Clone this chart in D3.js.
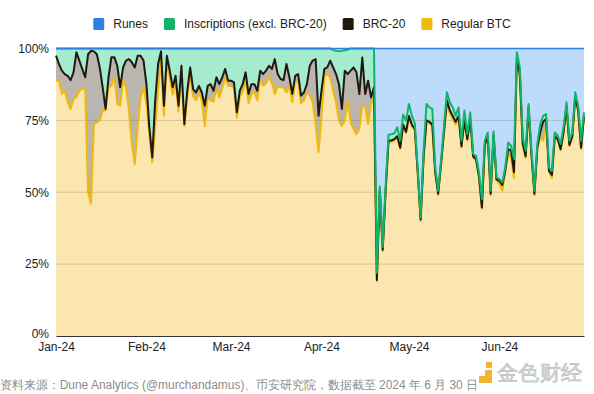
<!DOCTYPE html>
<html>
<head>
<meta charset="utf-8">
<script src="https://cdn.jsdelivr.net/npm/d3@7"></script>
<style>
  body { margin: 0; background: #fff; }
  svg text { font-family: "Liberation Sans", Arial, sans-serif; }
</style>
</head>
<body>
<script>
// daily share of bitcoin transactions by type, Jan 1 – Jun 30 2024 (%)
var startDay = "2024-01-01", endDay = "2024-06-30";

var regular = [
  88.8, 88.8, 84.2, 85.3, 81.3, 79, 82.4, 83, 85.3, 85.9,
  86, 50, 46, 73.7, 74.3, 74.9, 78.4, 78.4, 86.5, 87,
  90, 80.7, 80.1, 88.8, 86.5, 78.4, 66.8, 59.8, 72.6, 83,
  86.5, 80.7, 70.2, 60.4, 72.6, 85.3, 96, 76.6, 95, 90,
  84, 88, 78, 92, 73, 83, 91, 83.5, 82, 84.5,
  82, 73, 83, 82, 81.5, 86, 83, 86, 90, 87,
  87, 86.5, 76, 83, 85, 89, 81, 84, 85, 82,
  89, 87, 88, 90, 88.2, 84.2, 87, 86.5, 86.5, 84.7,
  87, 81.3, 88.8, 88.2, 81, 82, 84.7, 83.6, 81.3, 73.7,
  63.9, 76, 90.5, 91, 90, 85.3, 81.3, 74.9, 73, 74.9,
  81.8, 74.3, 72, 70.2, 72, 80.1, 79.5, 73.7, 80.7, 83,
  19, 50.5, 29.5, 50, 67.5, 67.5, 68, 69, 65, 73,
  70.5, 76, 73, 71.5, 56.5, 40, 61.5, 74.5, 74, 73,
  56.5, 49, 59.5, 70.5, 81, 77.5, 75.5, 73.5, 76, 65.5,
  74.5, 68, 75, 62, 61, 55, 44.2, 66, 69, 49,
  69.5, 54, 53, 50.5, 57, 63, 62, 55, 97, 90,
  66, 62, 79, 62.5, 49, 65, 69, 68, 73, 57,
  55, 69, 68, 64.5, 70.5, 79.5, 66, 69, 83, 78,
  65, 76
];

var brc20 = [
  8.7, 5.8, 8.1, 5.8, 9.2, 10, 9.3, 15.7, 10.5, 7,
  4, 48, 53.2, 25.3, 23.7, 18.5, 8.1, 0.6, 3.5, 10,
  7, 13.3, 6.4, 4.6, 9.3, 17.9, 28.4, 33.6, 24.9, 14.5,
  9.3, 6.9, 2.4, 1.7, 9.2, 9.3, 3, 3.5, 2.5, 2.3,
  2.5, 2.5, 2.1, 2, 0.7, 2.3, 2.4, 2.4, 2.7, 2.5,
  2.7, 7.1, 4, 5.6, 3.8, 4, 4.6, 4, 2.9, 1.8,
  1.8, 1.7, 1.8, 2.3, 2.6, 2.7, 3.2, 3.6, 2.6, 3.3,
  3.3, 4.1, 4.3, 4, 4.7, 12.1, 4.1, 2.9, 2.5, 9.9,
  3, 2.9, 1.7, 2.9, 2.6, 2.7, 2.9, 10.4, 14.5, 22.6,
  12.7, 9.3, 2.4, 2.4, 5.8, 8.1, 9.8, 12.7, 6, 17.4,
  9.3, 18, 21.4, 21.5, 12.2, 16.8, 4.7, 15.1, 2.3, 3.5,
  0.5, 0.5, 0.5, 0.5, 0.5, 0.5, 0.5, 0.5, 0.5, 0.5,
  0.5, 0.5, 0.5, 0.5, 0.5, 0.5, 0.5, 0.5, 0.5, 0.5,
  0.5, 0.5, 0.5, 0.5, 1, 1, 1, 1, 0.5, 0.5,
  0.5, 0.5, 0.5, 0.5, 0.5, 0.5, 0.5, 0.5, 0.5, 0.5,
  0.5, 0.5, 1, 2, 0.5, 2, 2.5, 2, 0.5, 1,
  1, 0.5, 0.5, 0.5, 0.5, 0.5, 2, 6.5, 2.5, 0.5,
  1, 0.5, 0.5, 0.5, 0.5, 0.5, 0.5, 0.5, 0.5, 0.5,
  0.5, 0.5
];

var inscriptions = [
  2.5, 5.4, 7.7, 8.9, 9.5, 11, 8.3, 1.3, 4.2, 7.1,
  10, 2, 0.8, 1, 2, 6.6, 13.5, 21, 10, 3,
  3, 6, 13.5, 6.6, 4.2, 3.7, 4.8, 6.6, 2.5, 2.5,
  4.2, 12.4, 27.4, 37.9, 18.2, 5.4, 1, 19.9, 2.5, 7.7,
  13.5, 9.5, 19.9, 6, 26.3, 14.7, 6.6, 14.1, 15.3, 13,
  15.3, 19.9, 13, 12.4, 14.7, 10, 12.4, 10, 7.1, 11.2,
  11.2, 11.8, 22.2, 14.7, 12.4, 8.3, 15.8, 12.4, 12.4, 14.7,
  7.7, 8.9, 7.7, 6, 7.1, 3.7, 8.9, 10.6, 11, 5.4,
  10, 15.8, 9.5, 8.9, 16.4, 15.3, 12.4, 6, 4.2, 3.7,
  23.4, 14.7, 7.1, 6.6, 4.2, 6.1, 8.1, 11.4, 20.2, 7.1,
  8.5, 7.7, 6.6, 8.3, 15.8, 3.1, 15.8, 11.2, 17, 13.5,
  2.5, 1, 1, 1.5, 2, 2.2, 2, 3.1, 2.5, 3.5,
  4, 4.2, 3.1, 2, 1, 0.7, 2, 5.7, 5, 5.5,
  1.6, 1, 1, 1.6, 2.8, 2.8, 3, 2.1, 3, 1.9,
  3.4, 1.7, 2.3, 0.8, 1.2, 1.4, 2.9, 1.4, 1.3, 1,
  1.1, 0.7, 0.6, 0.9, 1.1, 2.3, 1.7, 4.6, 1.2, 2.4,
  2.1, 1.9, 1.2, 1.4, 1, 1.3, 2.7, 2.1, 1.7, 1.1,
  1.5, 1.3, 1.2, 1.8, 1.6, 1.3, 1.4, 1.3, 1.3, 1.6,
  2.4, 1.3
];

var runes = [
  0, 0, 0, 0, 0, 0, 0, 0, 0, 0,
  0, 0, 0, 0, 0, 0, 0, 0, 0, 0,
  0, 0, 0, 0, 0, 0, 0, 0, 0, 0,
  0, 0, 0, 0, 0, 0, 0, 0, 0, 0,
  0, 0, 0, 0, 0, 0, 0, 0, 0, 0,
  0, 0, 0, 0, 0, 0, 0, 0, 0, 0,
  0, 0, 0, 0, 0, 0, 0, 0, 0, 0,
  0, 0, 0, 0, 0, 0, 0, 0, 0, 0,
  0, 0, 0, 0, 0, 0, 0, 0, 0, 0,
  0, 0, 0, 0, 0, 0.5, 0.8, 1, 0.8, 0.6,
  0.4, 0, 0, 0, 0, 0, 0, 0, 0, 0,
  78, 48, 69, 48, 30, 29.8, 29.5, 27.4, 32, 23,
  25, 19.3, 23.4, 26, 42, 58.8, 36, 19.3, 20.5, 21,
  41.4, 49.5, 39, 27.4, 15.2, 18.7, 20.5, 23.4, 20.5, 32.1,
  21.6, 29.8, 22.2, 36.7, 37.3, 43.1, 52.4, 32.1, 29.2, 49.5,
  28.9, 44.8, 45.4, 46.6, 41.4, 32.7, 33.8, 38.4, 1.3, 6.6,
  30.9, 35.6, 19.3, 35.6, 49.5, 33.2, 26.3, 23.4, 22.8, 41.4,
  42.5, 29.2, 30.3, 33.2, 27.4, 18.7, 32.1, 29.2, 15.2, 19.9,
  32.1, 22.2
];

var seriesKeys = ["regular", "brc20", "inscriptions", "runes"];
var seriesNames = ["Regular BTC", "BRC-20", "Inscriptions (excl. BRC-20)", "Runes"];
var legendKeys = ["runes", "inscriptions", "brc20", "regular"];
var monthTicks = ["2024-01-01", "2024-02-01", "2024-03-01", "2024-04-01", "2024-05-01", "2024-06-01"];
var yTicks = [0, 0.25, 0.5, 0.75, 1];
var sourceNote = "资料来源：Dune Analytics (@murchandamus)、币安研究院，数据截至 2024 年 6 月 30 日";
var watermark = "金色财经";

var lineColor = { regular: "#f0b90b", brc20: "#20190f", inscriptions: "#13b26b", runes: "#2e7fe3" };
var areaColor = { regular: "#fce6af", brc20: "#bab5ae", inscriptions: "#a5ebcf", runes: "#bddbfa" };

var width = 594, height = 394;
var margin = { top: 48.5, right: 10, bottom: 58, left: 56 };

var parse = d3.timeParse("%Y-%m-%d");
var days = d3.timeDay.range(parse(startDay), d3.timeDay.offset(parse(endDay), 1));

var rows = days.map(function(d, i) {
  return { date: d, regular: regular[i], brc20: brc20[i], inscriptions: inscriptions[i], runes: runes[i] };
});

var layers = d3.stack().keys(seriesKeys).offset(d3.stackOffsetExpand)(rows);

var x = d3.scaleTime()
  .domain([days[0], days[days.length - 1]])
  .range([margin.left, width - margin.right]);

var y = d3.scaleLinear()
  .domain([0, 1])
  .range([height - margin.bottom, margin.top]);

var svg = d3.select("body").append("svg")
  .attr("width", width)
  .attr("height", height);

// stacked areas
var area = d3.area()
  .x(function(d) { return x(d.data.date); })
  .y0(function(d) { return y(d[0]); })
  .y1(function(d) { return y(d[1]); });

svg.append("g").selectAll("path")
  .data(layers)
  .join("path")
  .attr("d", area)
  .attr("fill", function(d) { return areaColor[d.key]; });

// gridlines sit over the fills
svg.append("g").selectAll("line")
  .data(yTicks.filter(function(t) { return t > 0 && t < 1; }))
  .join("line")
  .attr("x1", margin.left)
  .attr("x2", width - margin.right)
  .attr("y1", function(d) { return y(d); })
  .attr("y2", function(d) { return y(d); })
  .attr("stroke", "rgba(60,40,0,0.18)")
  .attr("stroke-width", 1);

// outline on top of each layer
var line = d3.line()
  .x(function(d) { return x(d.data.date); })
  .y(function(d) { return y(d[1]); });

svg.append("g").selectAll("path")
  .data(layers)
  .join("path")
  .attr("d", line)
  .attr("fill", "none")
  .attr("stroke", function(d) { return lineColor[d.key]; })
  .attr("stroke-width", function(d) { return d.key === "runes" ? 1.5 : 2; })
  .attr("stroke-linejoin", "round");

// x axis
var xAxis = svg.append("g")
  .attr("transform", "translate(0," + (height - margin.bottom) + ")")
  .call(d3.axisBottom(x)
    .tickValues(monthTicks.map(parse))
    .tickFormat(d3.timeFormat("%b-%y"))
    .tickSize(0)
    .tickPadding(6));
xAxis.select(".domain").attr("stroke", "#333").attr("stroke-width", 1.2);
xAxis.selectAll("text").attr("font-size", 12).attr("fill", "#222")
  .attr("font-family", "'Liberation Sans', Arial, sans-serif");

// y axis labels
var yAxis = svg.append("g")
  .attr("transform", "translate(" + (margin.left - 7) + ",0)")
  .call(d3.axisLeft(y)
    .tickValues(yTicks)
    .tickFormat(d3.format(".0%"))
    .tickSize(0)
    .tickPadding(0));
yAxis.select(".domain").remove();
yAxis.selectAll("text").attr("font-size", 12).attr("fill", "#222")
  .attr("font-family", "'Liberation Sans', Arial, sans-serif")
  .attr("dy", function(d) { return d === 0 ? "0.1em" : "0.32em"; });

// legend, centred
var legend = svg.append("g");
var lx = 0;
legendKeys.forEach(function(k) {
  var g = legend.append("g").attr("transform", "translate(" + lx + ",0)");
  g.append("rect").attr("x", 0).attr("y", -6).attr("width", 11).attr("height", 12)
    .attr("rx", 1.5).attr("fill", lineColor[k]);
  var t = g.append("text").attr("x", 20).attr("y", 0).attr("dy", "0.35em")
    .attr("font-size", 12).attr("fill", "#222")
    .text(seriesNames[seriesKeys.indexOf(k)]);
  lx += 20 + t.node().getComputedTextLength() + 16;
});
lx -= 16;
legend.attr("transform", "translate(" + (302 - lx / 2) + ",24)");

// source note
svg.append("text")
  .attr("x", 0)
  .attr("y", 389)
  .attr("font-size", 12)
  .attr("fill", "#8c8c8c")
  .attr("font-family", "'Noto Sans CJK SC', sans-serif")
  .attr("textLength", 478)
  .attr("lengthAdjust", "spacingAndGlyphs")
  .text(sourceNote);

// watermark
var wm = svg.append("g").attr("transform", "translate(479,362)");
wm.append("rect").attr("x", 7).attr("y", 0).attr("width", 6).attr("height", 6).attr("fill", "#f2b52e");
wm.append("path").attr("d", "M0,14 h6 v-6 h7 v13 h-13 z").attr("fill", "#f2b52e");
svg.append("text")
  .attr("x", 497)
  .attr("y", 380)
  .attr("font-size", 21)
  .attr("fill", "#e2e2e2")
  .attr("stroke", "#bdbdbd")
  .attr("stroke-width", 0.7)
  .attr("font-family", "'Noto Sans CJK SC', sans-serif")
  .attr("textLength", 85)
  .text(watermark);
</script>
</body>
</html>
